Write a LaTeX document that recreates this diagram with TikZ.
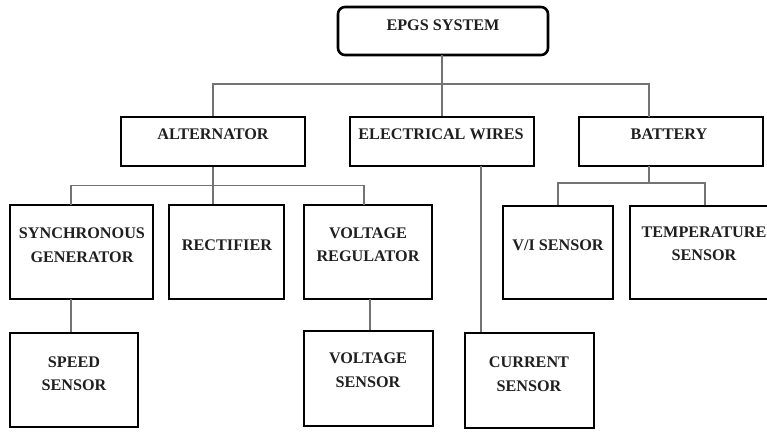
\documentclass[tikz,border=0pt]{standalone}
\usepackage{fontspec}
\setmainfont{Liberation Serif}
\begin{document}
\begin{tikzpicture}[x=1pt,y=1pt,
  box/.style={draw=black, line width=2.6pt, inner sep=0pt, rectangle},
  lbl/.style={font=\fontsize{16.2}{23.5}\selectfont\bfseries, text=black!88, align=center, inner sep=0pt},
  conn/.style={draw=black!55, line width=1.1pt}]
\useasboundingbox (0,0) rectangle (767,-432);
% boxes
\node[box, rounded corners=7pt, minimum width=210pt, minimum height=48pt] (epgs) at (443,-31) {};
\node[box, minimum width=184pt, minimum height=49pt] (alt) at (213,-141.5) {};
\node[box, minimum width=184pt, minimum height=49pt] (wires) at (442,-141.5) {};
\node[box, minimum width=184pt, minimum height=49pt] (batt) at (671,-141.5) {};
\node[box, minimum width=143pt, minimum height=94pt] (sync) at (81.5,-252) {};
\node[box, minimum width=115pt, minimum height=94pt] (rect) at (226.5,-252) {};
\node[box, minimum width=128pt, minimum height=94pt] (vreg) at (368,-252) {};
\node[box, minimum width=110pt, minimum height=93pt] (vi) at (558,-252.5) {};
\node[box, minimum width=150pt, minimum height=93pt] (temp) at (705,-252.5) {};
\node[box, minimum width=128pt, minimum height=94pt] (speed) at (74,-380) {};
\node[box, minimum width=129pt, minimum height=95pt] (vsens) at (368.5,-378.5) {};
\node[box, minimum width=129pt, minimum height=95pt] (cur) at (529.5,-380.5) {};
% labels
\node[lbl] (tepgs) at (443,-25) {EPGS SYSTEM};
\node[lbl] (talt) at (213,-134) {ALTERNATOR};
\node[lbl] (twires) at (441,-134) {ELECTRICAL WIRES};
\node[lbl] (tbatt) at (669,-134) {BATTERY};
\node[lbl] (tsync) at (82,-245) {SYNCHRONOUS\\GENERATOR};
\node[lbl] (trect) at (227,-245) {RECTIFIER};
\node[lbl] (tvreg) at (368,-244.5) {VOLTAGE\\REGULATOR};
\node[lbl] (tvi) at (558,-245) {V/I SENSOR};
\node[lbl] (ttemp) at (704,-243.5) {TEMPERATURE\\SENSOR};
\node[lbl] (tspeed) at (74,-373.5) {SPEED\\SENSOR};
\node[lbl] (tvsens) at (368,-370) {VOLTAGE\\SENSOR};
\node[lbl] (tcur) at (529,-374) {CURRENT\\SENSOR};
% attach points
\coordinate (eB) at (442,-55);
\coordinate (bT) at (649,-117);
\coordinate (bB) at (649,-166);
\coordinate (wB) at (481,-166);
\coordinate (sT) at (71,-205);
\coordinate (sB) at (71,-299);
\coordinate (vT) at (364,-205);
\coordinate (vB) at (370,-299);
% connectors
\draw[conn] (eB) -- ++(0,-29) coordinate (j0);
\draw[conn] (alt.north) |- (j0) -| (bT);
\draw[conn] (j0) -- (j0 |- wires.north);
\draw[conn] (alt.south) -- ++(0,-18) coordinate (j1);
\draw[conn] (sT) |- (j1) -| (vT);
\draw[conn] (j1) -- (j1 |- rect.north);
\draw[conn] (bB) -- ++(0,-17) coordinate (j2);
\draw[conn] (vi.north) |- (j2) -| (temp.north);
\draw[conn] (wB) -- (wB |- cur.north);
\draw[conn] (sB) -- (sB |- speed.north);
\draw[conn] (vB) -- (vB |- vsens.north);
\end{tikzpicture}
\end{document}
